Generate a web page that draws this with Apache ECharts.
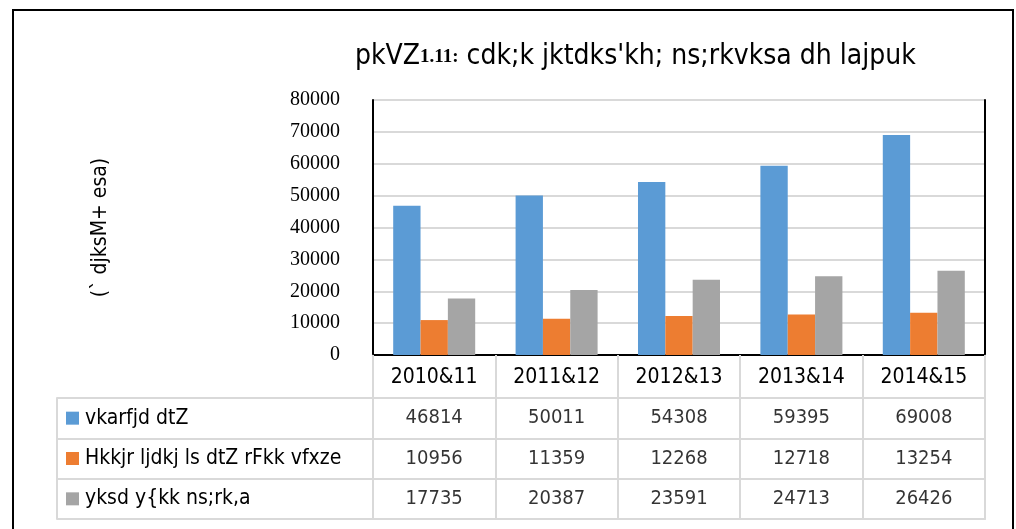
<!DOCTYPE html>
<html><head><meta charset="utf-8">
<script src="https://cdn.jsdelivr.net/npm/echarts@6/dist/echarts.min.js"></script>
<style>html,body{margin:0;padding:0;background:#fff}#c{width:1016px;height:529px}</style>
</head><body><div id="c"></div>
<script>
var categories = ['2010&11', '2011&12', '2012&13', '2013&14', '2014&15'];
var seriesNames = ['vkarfjd dtZ', 'Hkkjr ljdkj ls dtZ rFkk vfxze', 'yksd y{kk ns;rk,a'];
var internalDebt = [46814, 50011, 54308, 59395, 69008];
var govtLoans = [10956, 11359, 12268, 12718, 13254];
var publicAccount = [17735, 20387, 23591, 24713, 26426];
var yTicks = [0, 10000, 20000, 30000, 40000, 50000, 60000, 70000, 80000];
var colors = ['#5b9bd5', '#ed7d31', '#a5a5a5'];
var titlePre = 'pkVZ', titleNum = '1.11:', titlePost = ' cdk;k jktdks\'kh; ns;rkvksa dh lajpuk';
var yName = '(` djksM+ esa)';

var allSeries = [internalDebt, govtLoans, publicAccount];
var narrow = "'Liberation Sans Narrow','DejaVu Sans Condensed',sans-serif";
var grayLine = {color: '#d9d9d9', width: 2};

var chart = echarts.init(document.getElementById('c'), null, {renderer: 'canvas'});
var series = [];
allSeries.forEach(function (vals, i) {
  series.push({
    type: 'bar', name: seriesNames[i], xAxisIndex: 0, yAxisIndex: 0,
    data: vals, barGap: '0%', barCategoryGap: '33%',
    itemStyle: {color: colors[i]}
  });
});
allSeries.forEach(function (vals, i) {
  series.push({
    type: 'scatter', xAxisIndex: 2, yAxisIndex: 2, symbolSize: 1,
    itemStyle: {color: 'rgba(0,0,0,0)'}, silent: true,
    data: vals.map(function (v, j) { return [j, i, v]; }),
    label: {show: true, position: 'inside', formatter: function (p) { return String(p.value[2]); },
      fontSize: 20, fontFamily: narrow, color: '#000'}
  });
});

var rowRich = {};
colors.forEach(function (c, i) {
  rowRich['sq' + i] = {backgroundColor: c, width: 13, height: 13};
});
rowRich.t = {fontSize: 21, fontFamily: narrow, color: '#000', padding: [0, 0, 0, 6]};

chart.setOption({
  animation: false,
  title: {
    text: '{a|' + titlePre + '}{b|' + titleNum + '}{a|' + titlePost + '}',
    left: 350, top: 38,
    textStyle: {fontWeight: 'normal', rich: {
      a: {fontSize: 28, fontFamily: narrow, color: '#000', fontWeight: 'normal'},
      b: {fontSize: 19, fontFamily: "'Liberation Serif',serif", fontWeight: 'bold', color: '#000'}
    }}
  },
  graphic: [{type: 'rect', shape: {x: 13, y: 10, width: 1000, height: 540},
    style: {fill: 'none', stroke: '#000', lineWidth: 2}}],
  grid: [
    {left: 373, right: 31, top: 100, height: 255},
    {left: 373, right: 31, top: 398, bottom: 10}
  ],
  xAxis: [
    {type: 'category', gridIndex: 0, data: categories, position: 'bottom',
      axisLine: {lineStyle: grayLine}, axisTick: {show: true, length: 43, lineStyle: grayLine},
      axisLabel: {fontSize: 21, fontFamily: narrow, color: '#000', margin: 12}, splitLine: {show: false}},
    {type: 'category', gridIndex: 0, data: categories, position: 'top',
      axisLine: {lineStyle: {color: '#000', width: 2}}, axisTick: {show: false}, axisLabel: {show: false}},
    {type: 'category', gridIndex: 1, data: categories, position: 'top',
      axisLine: {lineStyle: grayLine}, axisTick: {show: false}, axisLabel: {show: false},
      splitLine: {show: true, lineStyle: grayLine}},
    {type: 'category', gridIndex: 1, data: categories, position: 'bottom',
      axisLine: {lineStyle: grayLine}, axisTick: {show: false}, axisLabel: {show: false}}
  ],
  yAxis: [
    {type: 'value', gridIndex: 0, min: yTicks[0], max: yTicks[yTicks.length - 1], interval: yTicks[1] - yTicks[0],
      axisLine: {show: true, lineStyle: {color: '#000', width: 2}}, axisTick: {show: false},
      axisLabel: {fontSize: 20, fontFamily: "'Liberation Serif','Times New Roman',serif", color: '#000', margin: 33,
        formatter: function (v) { return String(v); }},
      splitLine: {lineStyle: {color: '#d9d9d9', width: 2}},
      name: yName, nameLocation: 'middle', nameGap: 262, nameRotate: 90,
      nameTextStyle: {fontSize: 21, fontFamily: narrow, color: '#000'}},
    {type: 'value', gridIndex: 0, position: 'right', min: yTicks[0], max: yTicks[yTicks.length - 1],
      axisLine: {show: true, lineStyle: {color: '#000', width: 2}}, axisTick: {show: false},
      axisLabel: {show: false}, splitLine: {show: false}},
    {type: 'category', gridIndex: 1, data: [0, 1, 2], inverse: true, position: 'left',
      axisLine: {show: true, lineStyle: grayLine},
      axisTick: {show: true, length: 316, lineStyle: grayLine},
      axisLabel: {show: true, align: 'left', margin: 307,
        formatter: function (v, idx) { return '{sq' + idx + '|}{t|' + seriesNames[idx] + '}'; },
        rich: rowRich},
      splitLine: {show: true, lineStyle: grayLine}},
    {type: 'category', gridIndex: 1, data: [0, 1, 2], position: 'left', offset: 316,
      axisLine: {show: true, lineStyle: grayLine}, axisTick: {show: false}, axisLabel: {show: false}},
    {type: 'category', gridIndex: 1, data: [0, 1, 2], position: 'right',
      axisLine: {show: true, lineStyle: grayLine}, axisTick: {show: false}, axisLabel: {show: false}}
  ],
  series: series
});
</script></body></html>
